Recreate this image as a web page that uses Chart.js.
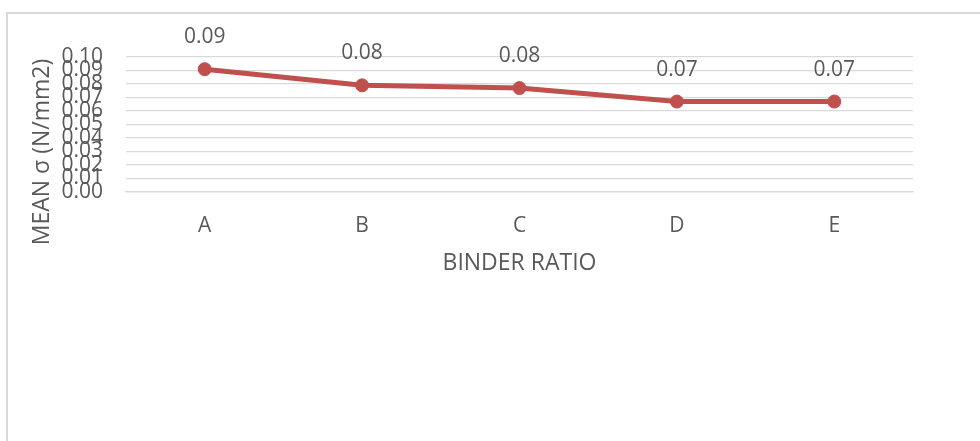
<!DOCTYPE html>
<html>
<head>
<meta charset="utf-8">
<script src="https://cdn.jsdelivr.net/npm/chart.js@4/dist/chart.umd.min.js"></script>
<style>
html,body{margin:0;padding:0;background:#fff;}
#wrap{position:relative;width:980px;height:441px;}
canvas{display:block;}
</style>
</head>
<body>
<div id="wrap"><canvas id="c" width="980" height="441"></canvas></div>
<script>
// ---- data ----
const categories = ["A", "B", "C", "D", "E"];
const meanStress = [0.091, 0.079, 0.077, 0.067, 0.067];
const yMin = 0.00;
const yMax = 0.10;
const yStep = 0.01;
const yTitle = "MEAN σ (N/mm2)";
const xTitle = "BINDER RATIO";

const FONT = "'Open Sans', 'Liberation Sans', sans-serif";
const TEXT = "#595959";
const LINE = "#c0504d";
const GRID = "#d9d9d9";

const decor = {
  id: 'decor',
  beforeDraw(chart) {
    const ctx = chart.ctx;
    ctx.save();
    ctx.fillStyle = '#fff';
    ctx.fillRect(0, 0, chart.width, chart.height);
    ctx.strokeStyle = GRID;
    ctx.lineWidth = 2;
    ctx.beginPath();
    ctx.moveTo(7, chart.height);
    ctx.lineTo(7, 13);
    ctx.lineTo(chart.width, 13);
    ctx.stroke();
    ctx.restore();
  },
  afterDraw(chart) {
    const ctx = chart.ctx;
    ctx.save();
    // y axis title
    ctx.translate(42, 152);
    ctx.rotate(-Math.PI / 2);
    ctx.font = "23px " + FONT;
    ctx.fillStyle = TEXT;
    ctx.textAlign = 'center';
    ctx.textBaseline = 'middle';
    ctx.fillText(yTitle, 0, 0);
    ctx.restore();
    // value labels
    ctx.save();
    ctx.font = "21px " + FONT;
    ctx.fillStyle = TEXT;
    ctx.textAlign = 'center';
    ctx.textBaseline = 'middle';
    const meta = chart.getDatasetMeta(0);
    meta.data.forEach((pt, i) => {
      ctx.fillText(meanStress[i].toFixed(2), pt.x, pt.y - 32);
    });
    ctx.restore();
  }
};

new Chart(document.getElementById('c'), {
  type: 'line',
  data: {
    labels: categories,
    datasets: [{
      data: meanStress,
      borderColor: LINE,
      backgroundColor: LINE,
      borderWidth: 5,
      pointRadius: 6.5,
      pointBorderWidth: 1,
      pointBackgroundColor: LINE,
      pointBorderColor: LINE,
      tension: 0,
      fill: false
    }]
  },
  options: {
    responsive: false,
    animation: false,
    devicePixelRatio: 1,
    layout: { padding: { top: 57, right: 67, left: 0, bottom: 160 } },
    plugins: { legend: { display: false }, tooltip: { enabled: false } },
    scales: {
      x: {
        offset: true,
        grid: { display: false, drawTicks: false },
        border: { display: true, color: GRID, width: 1.3 },
        ticks: { color: TEXT, font: { family: FONT, size: 21 }, padding: 21 },
        title: { display: true, text: xTitle, color: TEXT, font: { family: FONT, size: 23 }, padding: 4 },
        afterFit(s) { s.height = 89; }
      },
      y: {
        min: yMin,
        max: yMax,
        grid: { color: GRID, lineWidth: 1.3, drawTicks: false },
        border: { display: false },
        ticks: {
          stepSize: yStep,
          autoSkip: false,
          color: TEXT,
          font: { family: FONT, size: 21 },
          padding: 23,
          callback: v => Number(v).toFixed(2)
        },
        afterFit(s) { s.width = 126; }
      }
    }
  },
  plugins: [decor]
});
</script>
</body>
</html>
